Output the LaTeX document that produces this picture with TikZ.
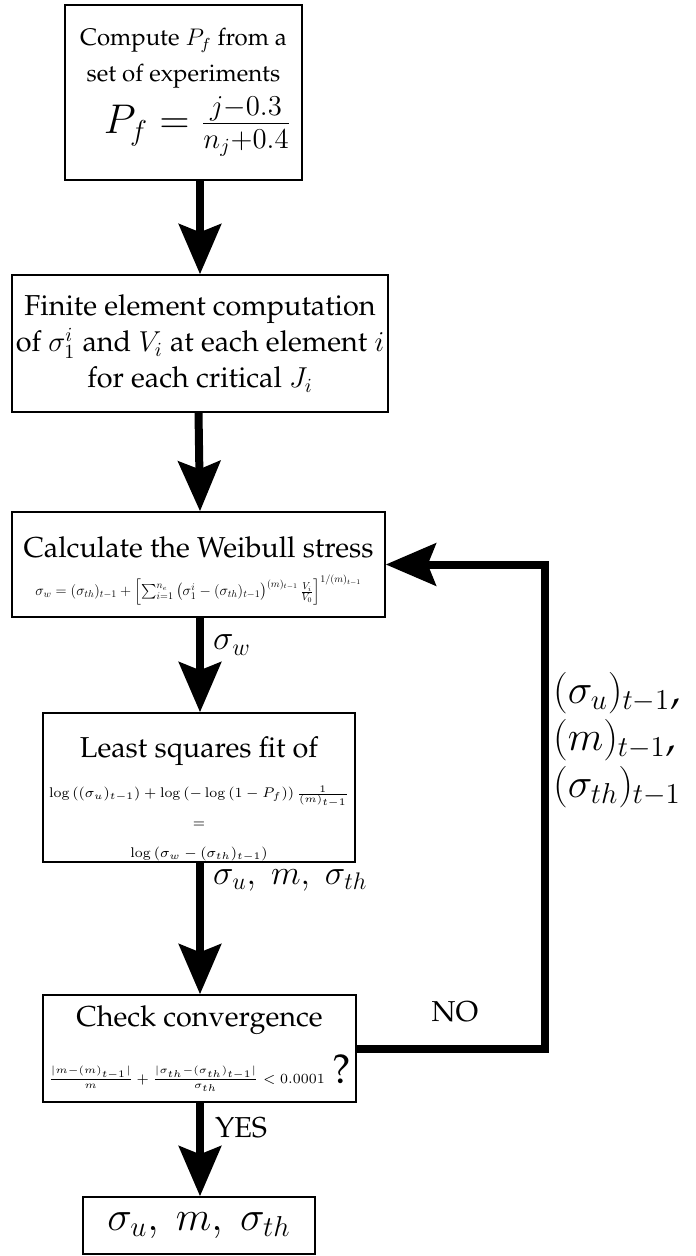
\documentclass[tikz,border=0pt]{standalone}
\usepackage[T1]{fontenc}
\renewcommand{\rmdefault}{ppl}
\usepackage{amsmath}
\usetikzlibrary{arrows.meta, positioning, calc}

\newcommand{\lblsize}{\fontsize{18.5}{22}\selectfont}

\tikzset{
  box/.style={draw, line width=0.75pt, align=center, inner sep=0pt, font=\Large},
  flow/.style={line width=4pt, -{Stealth[length=25pt,width=21pt,inset=4pt]}},
  lbl/.style={font=\lblsize, anchor=west}
}

\begin{document}
\begin{tikzpicture}[x=0.5pt, y=-0.5pt]
  \useasboundingbox (0,0) rectangle (695,1256);
  % boxes of the iteration
  \node[box, font=\large, minimum width=118.5pt, minimum height=87.5pt] (expt) at (183.5,92.5)
    {Compute $P_f$ from a\\[4pt] set of experiments\\[3pt]
     \hspace*{14pt}{\fontsize{19.5}{23}\selectfont $P_f = \frac{j-0.3}{n_j+0.4}$}};
  \node[box, minimum width=188pt, minimum height=68.5pt] (fem) at (200,343.5)
    {Finite element computation\\ of $\sigma_1^i$ and $V_i$ at each element $i$\\ for each critical $J_i$};
  \node[box, minimum width=186.5pt, minimum height=52.5pt] (weib) at (198.5,564.5)
    {\rule{0pt}{17pt}Calculate the Weibull stress\\[1pt]
     \resizebox{163pt}{!}{$\sigma_w = (\sigma_{th})_{t-1} + \left[\sum_{i=1}^{n_e} \left(\sigma_1^i - (\sigma_{th})_{t-1}\right)^{(m)_{t-1}} \frac{V_i}{V_0}\right]^{1/(m)_{t-1}}$}};
  \node[box, minimum width=156pt, minimum height=74.5pt] (fit) at (199,787.5)
    {\rule{0pt}{22pt}Least squares fit of\\[2pt]
     {\scriptsize $\log\left((\sigma_u)_{t-1}\right) + \log\left(-\log\left(1-P_f\right)\right)\frac{1}{(m)_{t-1}}$}\\[-3pt]
     {\scriptsize $=$}\\[-3pt]
     {\scriptsize $\log\left(\sigma_w - (\sigma_{th})_{t-1}\right)$}};
  \node[box, minimum width=156.5pt, minimum height=53.5pt] (conv) at (199.5,1048.5)
    {Check convergence\\[9pt]
     {\scriptsize $\frac{|m-(m)_{t-1}|}{m} + \frac{|\sigma_{th}-(\sigma_{th})_{t-1}|}{\sigma_{th}} < 0.0001$} {\huge ?}};
  \node[box, minimum width=116pt, minimum height=28.5pt, font=\huge] (res) at (199,1225.5)
    {$\sigma_u,\ m,\ \sigma_{th}$};

  % main flow
  \draw[flow] (expt.south -| fem.north) -- (fem.north);
  \draw[flow] (fem.south -| weib.north) -- (weib.north -| fem.south);
  \draw[flow] (weib.south -| fem.south) -- (fit.north -| fem.south);
  \draw[flow] (fit.south -| fem.south) -- (conv.north -| fem.south);
  \draw[flow] (conv.south -| fem.south) -- (res.north -| fem.south);

  % loop back
  \coordinate (back) at (545,800);
  \draw[flow] (conv.east) -| (back) |- (weib.east);

  % labels
  \node[lbl] (lw) at (206,645) {$\sigma_w$};
  \node[lbl] (lfit) at (206,880) {$\sigma_u,\ m,\ \sigma_{th}$};
  \node[lbl, font=\Large] (lyes) at (208,1128) {YES};
  \node[font=\Large] (lno) at (455,1012) {NO};
  \node[lbl, align=left, font=\fontsize{19.5}{22.5}\selectfont] (lprev) at (546,740)
    {$(\sigma_u)_{t-1}$,\\[1pt] $(m)_{t-1}$,\\[1pt] $(\sigma_{th})_{t-1}$};
\end{tikzpicture}
\end{document}
